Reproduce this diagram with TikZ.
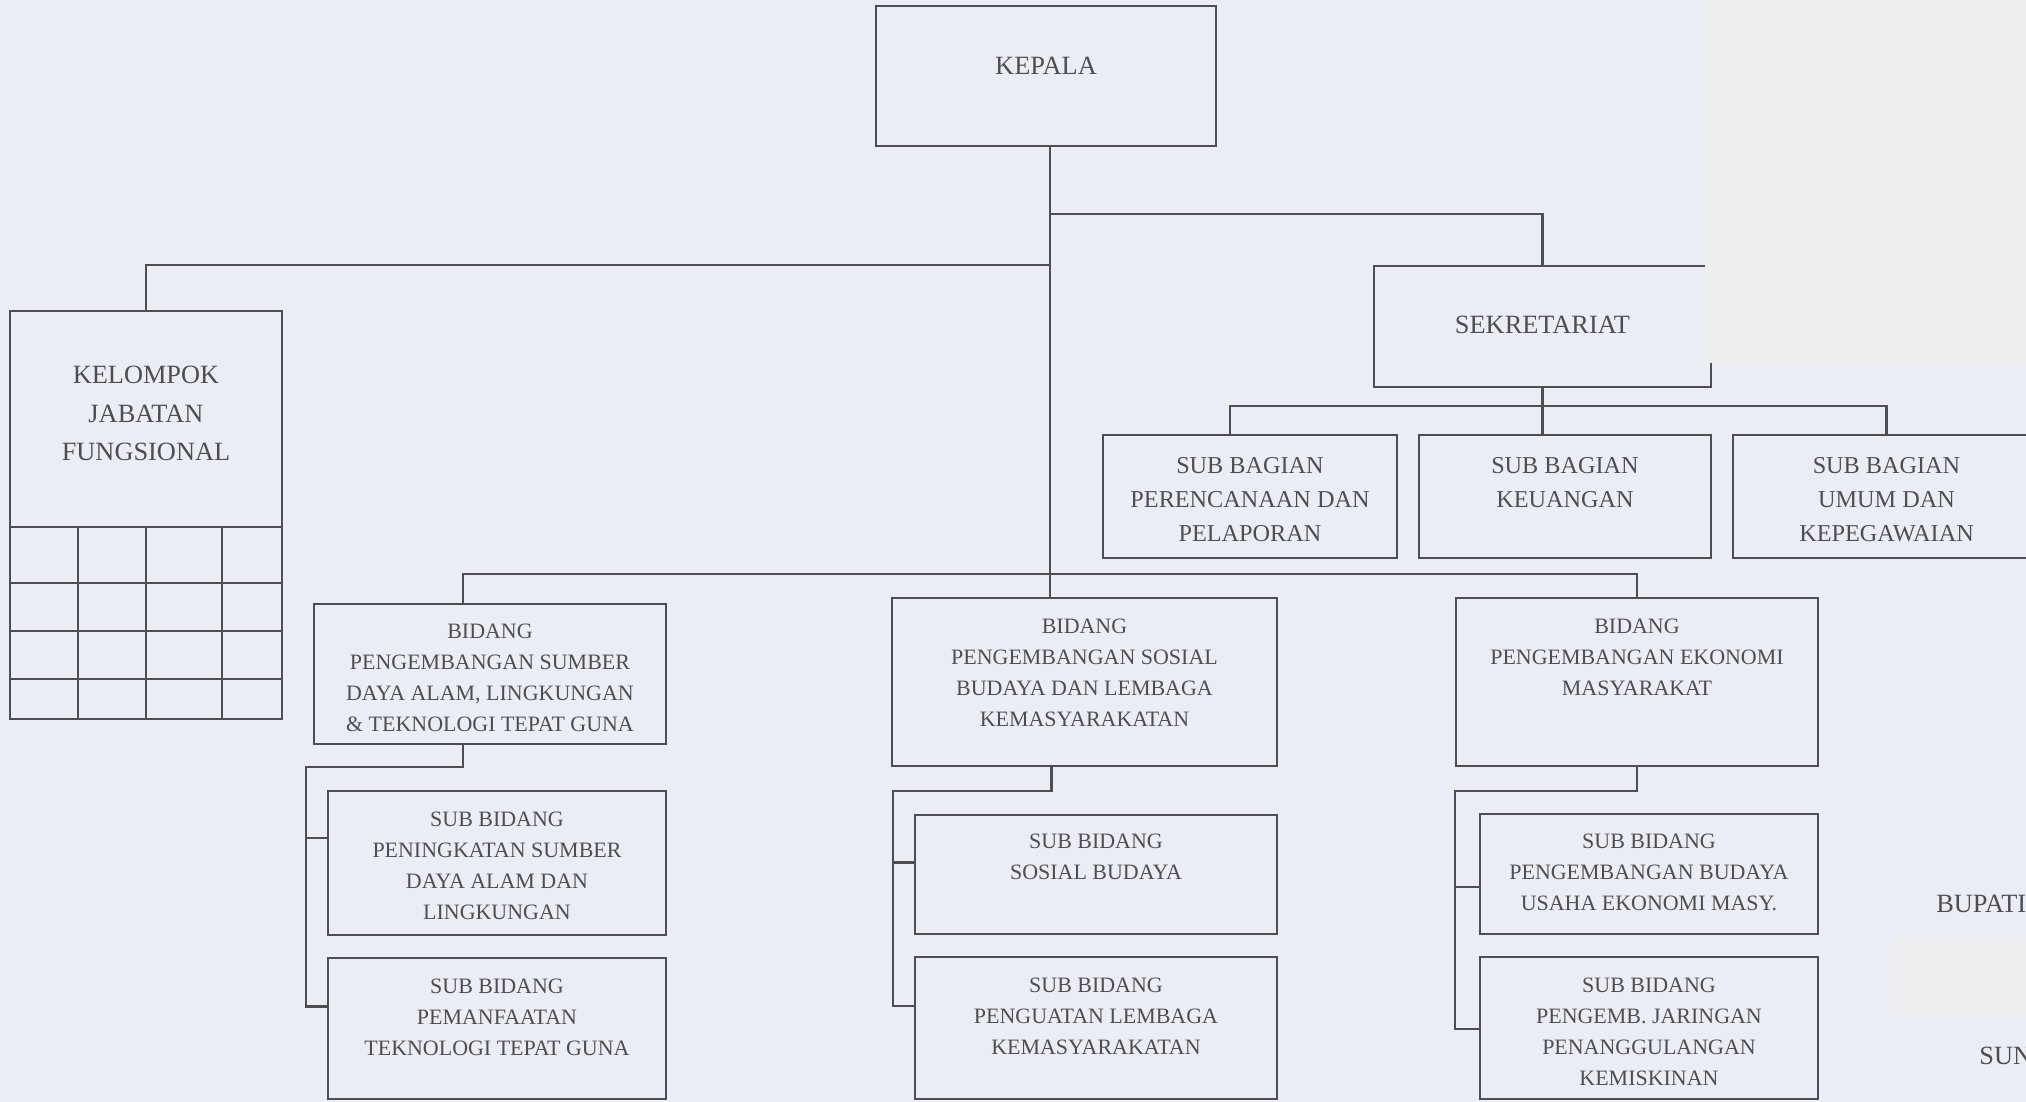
\documentclass[tikz,border=0pt]{standalone}
\usepackage{fontspec}
\setmainfont{Liberation Serif}
\usetikzlibrary{fit,calc}
\definecolor{paper}{RGB}{234,237,243}
\definecolor{patch}{RGB}{238,238,238}
\definecolor{ink}{RGB}{78,78,82}

\begin{document}
\begin{tikzpicture}[x=0.02cm,y=-0.02cm]
  \tikzstyle{box}=[draw=ink,line width=1.4pt,inner sep=0pt]
  \tikzstyle{con}=[draw=ink,line width=1.4pt]
  \tikzstyle{txtbig}=[anchor=north,inner sep=0pt,align=center,text=ink,font=\fontsize{15}{21.8}\selectfont]
  \tikzstyle{txtmid}=[anchor=north,inner sep=0pt,align=center,text=ink,font=\fontsize{13.8}{19.3}\selectfont]
  \tikzstyle{txtsml}=[anchor=north,inner sep=0pt,align=center,text=ink,font=\fontsize{12.5}{17.5}\selectfont]
  \useasboundingbox (0,0) rectangle (2026,1102);
  \clip (0,0) rectangle (2026,1102);
  \fill[paper] (0,0) rectangle (2026,1102);

  % top level
  \node[box,fit={(876,6) (1216,146)}] (kepala) {};
  \node[txtbig] (kepalaT) at (kepala.north |- 0,57) {KEPALA};
  \node[box,fit={(10,311) (282,719)}] (kel) {};
  \node[txtbig] (kelT) at (kel.north |- 0,366) {KELOMPOK\\JABATAN\\FUNGSIONAL};
  \node[box,fit={(1374,266) (1711,387)}] (sek) {};
  \node[txtbig] (sekT) at (sek.north |- 0,316) {SEKRETARIAT};

  % sub bagian
  \node[box,fit={(1103,435) (1397,558)}] (sbA) {};
  \node[txtmid] (sbAT) at (sbA.north |- 0,457) {SUB BAGIAN\\PERENCANAAN DAN\\PELAPORAN};
  \node[box,fit={(1419,435) (1711,558)}] (sbB) {};
  \node[txtmid] (sbBT) at (sbB.north |- 0,457) {SUB BAGIAN\\KEUANGAN};
  \node[box,fit={(1733,435) (2040,558)}] (sbC) {};
  \node[txtmid] (sbCT) at (sbC.north |- 0,457) {SUB BAGIAN\\UMUM DAN\\KEPEGAWAIAN};

  % bidang
  \node[box,fit={(314,604) (666,744)}] (bidSda) {};
  \node[txtsml] (bidSdaT) at (bidSda.north |- 0,624) {BIDANG\\PENGEMBANGAN SUMBER\\DAYA ALAM, LINGKUNGAN\\\& TEKNOLOGI TEPAT GUNA};
  \node[box,fit={(892,598) (1277,766)}] (bidSos) {};
  \node[txtsml] (bidSosT) at (bidSos.north |- 0,619) {BIDANG\\PENGEMBANGAN SOSIAL\\BUDAYA DAN LEMBAGA\\KEMASYARAKATAN};
  \node[box,fit={(1456,598) (1818,766)}] (bidEko) {};
  \node[txtsml] (bidEkoT) at (bidEko.north |- 0,619) {BIDANG\\PENGEMBANGAN EKONOMI\\MASYARAKAT};

  % sub bidang
  \node[box,fit={(328,791) (666,935)}] (sbSda1) {};
  \node[txtsml] (sbSda1T) at (sbSda1.north |- 0,812) {SUB BIDANG\\PENINGKATAN SUMBER\\DAYA ALAM DAN\\LINGKUNGAN};
  \node[box,fit={(328,958) (666,1099)}] (sbSda2) {};
  \node[txtsml] (sbSda2T) at (sbSda2.north |- 0,979) {SUB BIDANG\\PEMANFAATAN\\TEKNOLOGI TEPAT GUNA};
  \node[box,fit={(915,815) (1277,934)}] (sbSos1) {};
  \node[txtsml] (sbSos1T) at (sbSos1.north |- 0,834) {SUB BIDANG\\SOSIAL BUDAYA};
  \node[box,fit={(915,957) (1277,1099)}] (sbSos2) {};
  \node[txtsml] (sbSos2T) at (sbSos2.north |- 0,978) {SUB BIDANG\\PENGUATAN LEMBAGA\\KEMASYARAKATAN};
  \node[box,fit={(1480,814) (1818,934)}] (sbEko1) {};
  \node[txtsml] (sbEko1T) at (sbEko1.north |- 0,834) {SUB BIDANG\\PENGEMBANGAN BUDAYA\\USAHA EKONOMI MASY.};
  \node[box,fit={(1480,957) (1818,1099)}] (sbEko2) {};
  \node[txtsml] (sbEko2T) at (sbEko2.north |- 0,978) {SUB BIDANG\\PENGEMB. JARINGAN\\PENANGGULANGAN\\KEMISKINAN};

  % grid under kelompok
  \foreach \yy in {527,583,631,679}
    \draw[con] (kel.west |- 0,\yy) -- (kel.east |- 0,\yy);
  \foreach \xx in {78,146,222}
    \draw[con] (\xx,527) -- (kel.south -| \xx,0);

  % connectors
  \draw[con] ($(kepala.south)+(4,0)$) coordinate (t0) -- (t0 |- bidSos.north);
  \draw[con] (t0 |- 0,214) -| (sek.north);
  \draw[con] (t0 |- 0,265) -| (kel.north);
  \draw[con] (sek.south) -- (sek.south |- sbB.north);
  \draw[con] ($(sbA.north)+(-20,0)$) -- ++(0,-28) -| (sbC.north);
  \draw[con] ($(bidSda.north)+(-27,0)$) -- ++(0,-29) -| (bidEko.north);

  \draw[con] ($(bidSda.south)+(-27,0)$) -- ++(0,22) -| ($(sbSda2.west)+(-21,-22)$) -- ($(sbSda2.west)+(0,-22)$);
  \draw[con] ($(sbSda1.west)+(-21,-25)$) -- ($(sbSda1.west)+(0,-25)$);
  \draw[con] ($(bidSos.south)+(-33,0)$) -- ++(0,24) -| ($(sbSos2.west)+(-21,-22)$) -- ($(sbSos2.west)+(0,-22)$);
  \draw[con] ($(sbSos1.west)+(-21,-12)$) -- ($(sbSos1.west)+(0,-12)$);
  \draw[con] (bidEko.south) -- ++(0,24) -| ($(sbEko2.west)+(-24,1)$) -- ($(sbEko2.west)+(0,1)$);
  \draw[con] ($(sbEko1.west)+(-24,13)$) -- ($(sbEko1.west)+(0,13)$);

  % scan patches and cut text at the right edge
  \fill[patch] (1705,0) rectangle (2026,363);
  \fill[patch] (1893,938) rectangle (2026,1016);
  \node[txtbig,anchor=north west] (bupati) at (1936,895) {BUPATI};
  \node[txtbig,anchor=north west] (sun) at (1979,1047) {SUN};
\end{tikzpicture}
\end{document}
